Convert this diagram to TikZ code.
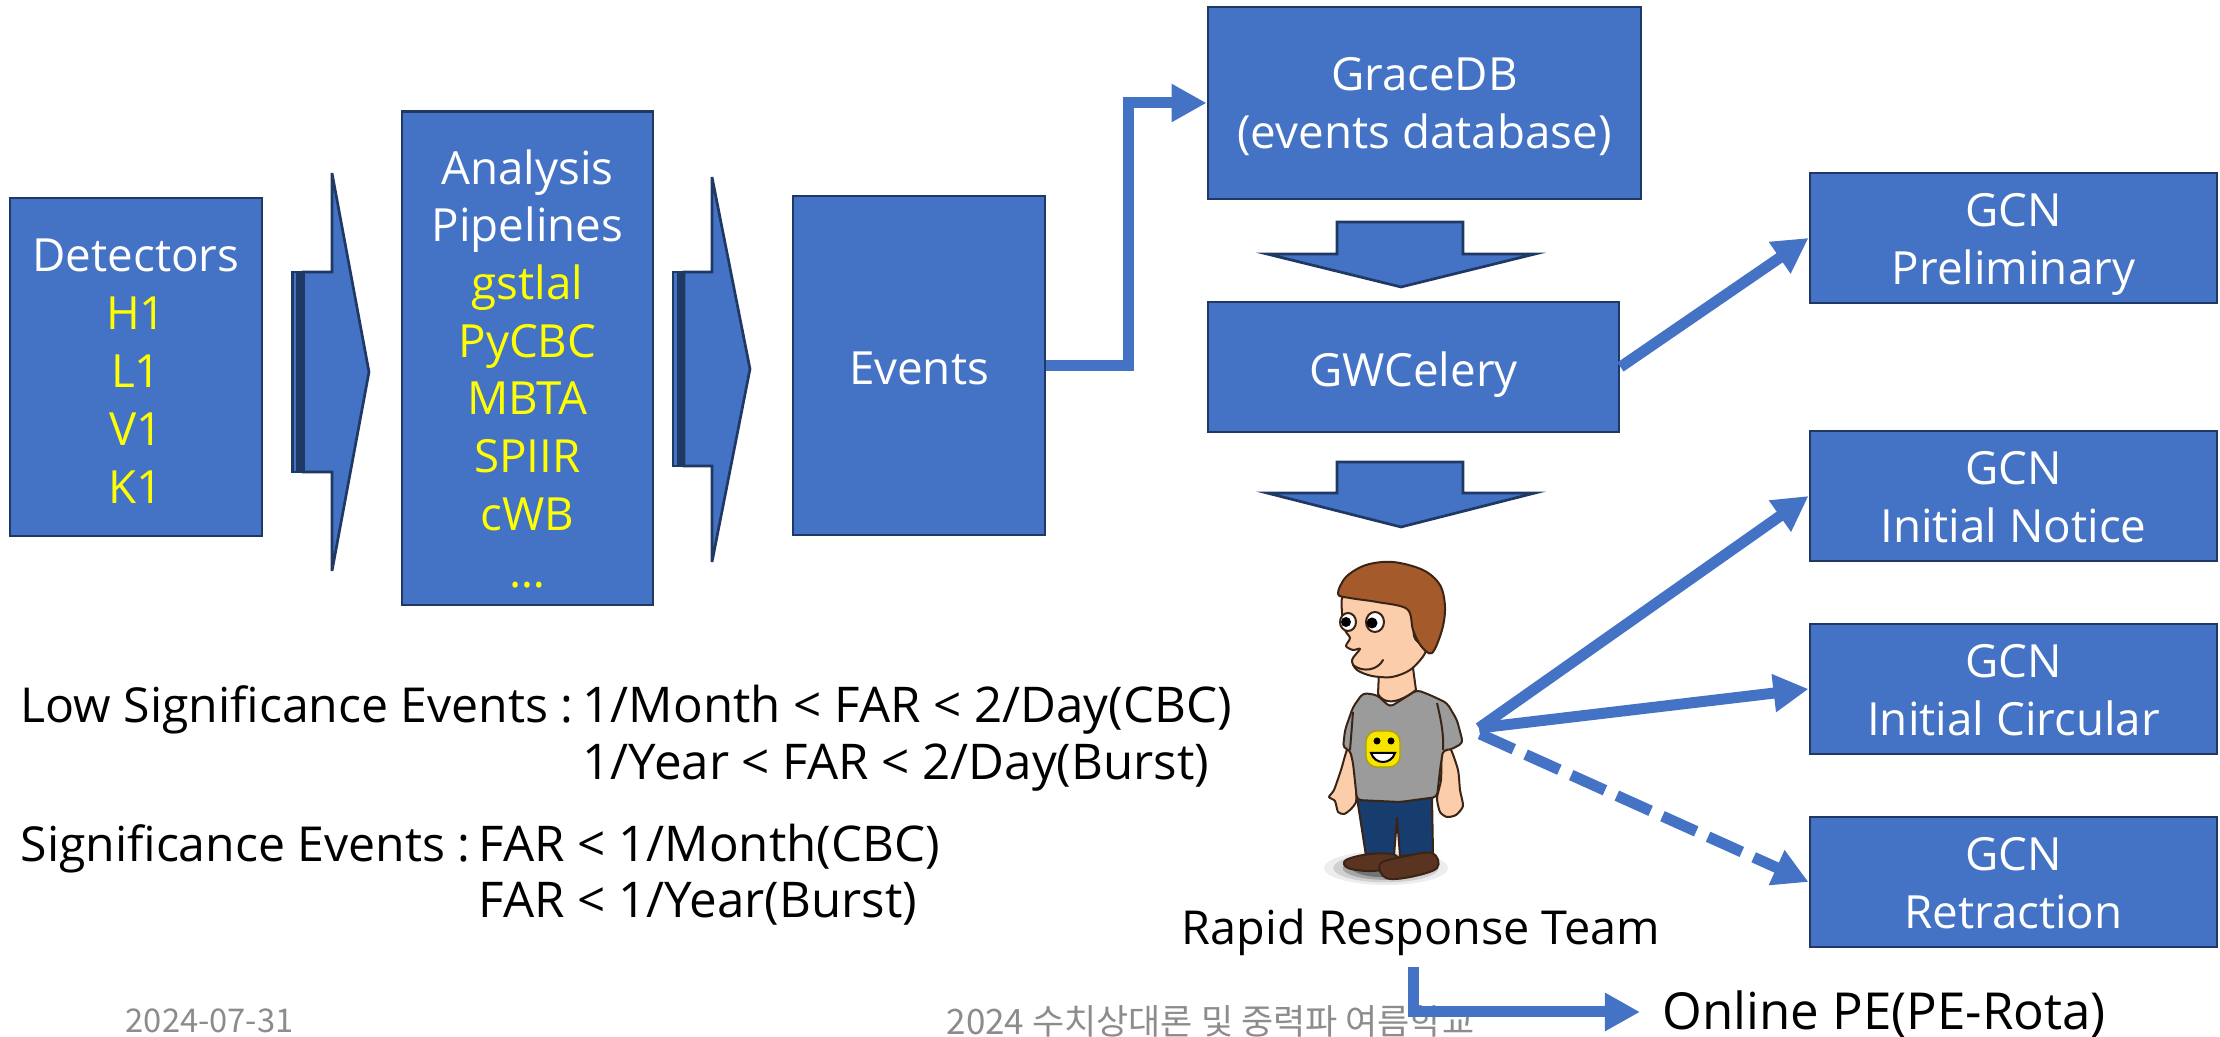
\documentclass[tikz,border=0pt]{standalone}
\usepackage{fontspec}
\setmainfont{Open Sans}
\newfontfamily\krfont{Noto Sans CJK KR}
\usetikzlibrary{arrows.meta}

\definecolor{boxblue}{HTML}{4472C4}
\definecolor{boxedge}{HTML}{1F3864}
\definecolor{hlyellow}{HTML}{FFFF00}
\definecolor{footgray}{HTML}{8C8C8C}
\definecolor{skin}{HTML}{FBCDAA}
\definecolor{hair}{HTML}{A45A2A}
\definecolor{inkbrown}{HTML}{3A2416}
\definecolor{shirt}{HTML}{9B9B9B}
\definecolor{jeans}{HTML}{173C6E}
\definecolor{shoe}{HTML}{5A3421}
\definecolor{smiley}{HTML}{F7E400}

\newcommand{\boxtxt}{\fontsize{13}{16.5}\selectfont}
\newcommand{\pipetxt}{\fontsize{13}{16.4}\selectfont}
\newcommand{\plaintxt}{\fontsize{14}{16}\selectfont}
\newcommand{\lefttxt}{\fontsize{13.7}{16}\selectfont}
\newcommand{\teamtxt}{\fontsize{13.3}{16}\selectfont}
\newcommand{\petxt}{\fontsize{14.5}{16}\selectfont}
\newcommand{\datetxt}{\fontsize{9.3}{11}\selectfont}
\newcommand{\schooltxt}{\fontsize{9.95}{12}\selectfont}
% centred lines of a box, lowered a little inside the box
\newcommand{\boxlines}[2][0.07cm]{%
  \raisebox{-#1}[\height][\depth]{\begin{tabular}{@{}c@{}}#2\end{tabular}}}

\begin{document}
\begin{tikzpicture}[x=0.01cm,y=-0.01cm,
  box/.style={draw=boxedge, fill=boxblue, line width=0.027cm, text=white,
    inner sep=0pt, font=\boxtxt},
  blockarrow/.style={draw=boxedge, fill=boxblue, line width=0.027cm, line join=miter},
  link/.style={draw=boxblue, line width=0.11cm, line join=miter,
    -{Triangle[length=0.35cm,width=0.36cm]}},
  plain/.style={font=\plaintxt, anchor=base west, inner sep=0pt},
  lead/.style={font=\lefttxt, anchor=base west, inner sep=0pt},
  ink/.style={draw=inkbrown, line width=0.02cm, line join=round},
]
\useasboundingbox (0,0) rectangle (2220,1037);

% ---------- pipeline boxes ----------
\node[box, minimum width=2.52cm, minimum height=3.38cm] (det) at (136,367)
  {\boxlines[0.09cm]{Detectors\\\textcolor{hlyellow}{H1}\\\textcolor{hlyellow}{L1}\\
   \textcolor{hlyellow}{V1}\\\textcolor{hlyellow}{K1}}};
\node[box, font=\pipetxt, minimum width=2.51cm, minimum height=4.93cm] (pip) at (527.5,358.5)
  {\boxlines[0.16cm]{Analysis\\Pipelines\\\textcolor{hlyellow}{gstlal}\\\textcolor{hlyellow}{PyCBC}\\
   \textcolor{hlyellow}{MBTA}\\\textcolor{hlyellow}{SPIIR}\\\textcolor{hlyellow}{cWB}\\
   \textcolor{hlyellow}{…}}};
\node[box, minimum width=2.52cm, minimum height=3.39cm] (ev) at (919,365.5) {\boxlines[0.07cm]{Events}};
\node[box, minimum width=4.33cm, minimum height=1.92cm] (grace) at (1424.5,103)
  {\boxlines[0.05cm]{GraceDB\\(events database)}};
\node[box, minimum width=4.11cm, minimum height=1.30cm] (gwc) at (1413.5,367) {\boxlines[0.08cm]{GWCelery}};

\node[box, minimum width=4.07cm, minimum height=1.30cm] (pre) at (2013.5,238)
  {\boxlines[0.055cm]{GCN\\Preliminary}};
\node[box, minimum width=4.07cm, minimum height=1.30cm] (ntc) at (2013.5,496)
  {\boxlines[0.055cm]{GCN\\Initial Notice}};
\node[box, minimum width=4.07cm, minimum height=1.30cm] (cir) at (2013.5,689)
  {\boxlines[0.055cm]{GCN\\Initial Circular}};
\node[box, minimum width=4.07cm, minimum height=1.30cm] (ret) at (2013.5,882)
  {\boxlines[0.055cm]{GCN\\Retraction}};

% ---------- striped block arrows ----------
\draw[blockarrow] (292.5,272) rectangle (297.5,472);
\draw[blockarrow] (299.5,272) rectangle (301.5,472);
\draw[blockarrow] (303.5,272) -- (332,272) -- (332,173) -- (369,372) -- (332,571)
  -- (332,472) -- (303.5,472) -- cycle;

\draw[blockarrow] (673,272) rectangle (678,466);
\draw[blockarrow] (680,272) rectangle (682,466);
\draw[blockarrow] (684,272) -- (712,272) -- (712,177) -- (750,369) -- (712,562)
  -- (712,466) -- (684,466) -- cycle;

% ---------- down block arrows ----------
\draw[blockarrow] (1337,222) -- (1463,222) -- (1463,254) -- (1535,254) -- (1401,287)
  -- (1267,254) -- (1337,254) -- cycle;
\draw[blockarrow] (1337,462) -- (1463,462) -- (1463,493) -- (1535,493) -- (1401,527)
  -- (1267,493) -- (1337,493) -- cycle;

% ---------- thresholds ----------
\node[lead] (low1) at (20,723) {Low Significance Events :};
\node[plain] (low2) at (582,723) {1/Month < FAR < 2/Day(CBC)};
\node[plain] (low3) at (582,780) {1/Year < FAR < 2/Day(Burst)};
\node[lead] (sig1) at (20,862) {Significance Events :};
\node[plain] (sig2) at (478,862) {FAR < 1/Month(CBC)};
\node[plain] (sig3) at (478,918) {FAR < 1/Year(Burst)};

% ---------- footer ----------
\node[font=\krfont\datetxt, text=footgray, anchor=west, inner sep=0pt] (date) at (125,1021) {2024-07-31};
\node[font=\krfont\schooltxt, text=footgray, anchor=west, inner sep=0pt] (school) at (946,1021)
  {2024 수치상대론 및 중력파 여름학교};

% ---------- the duty scientist ----------
% soft ground shadow
\foreach \r/\o in {1/0.07, 0.85/0.12, 0.7/0.2, 0.55/0.3}
  \fill[black, opacity=\o] (1386,868) ellipse [x radius=\r*0.62cm, y radius=\r*0.17cm];
% legs
\draw[ink, fill=jeans] (1357,798) -- (1432,797) -- (1433,853) -- (1400,856) -- (1397,818)
  -- (1394,856) -- (1366,856) -- cycle;
% shoes
\draw[ink, fill=shoe] plot[smooth cycle, tension=0.6] coordinates
  {(1346,860) (1370,854) (1395,855) (1398,866) (1372,871) (1348,868)};
\draw[ink, fill=shoe] plot[smooth cycle, tension=0.6] coordinates
  {(1380,864) (1402,857) (1432,853) (1437,868) (1410,877) (1386,878)};
% arms
\draw[ink, fill=skin] plot[smooth cycle, tension=0.4] coordinates
  {(1348,748) (1341,770) (1334,790) (1329,797) (1335,801) (1338,812) (1344,814) (1350,810)
   (1356,802) (1356,788) (1354,765)};
\draw[ink, fill=skin] plot[smooth cycle, tension=0.4] coordinates
  {(1450,748) (1458,770) (1460,790) (1463,806) (1456,815) (1447,817) (1440,812) (1437,798)
   (1441,780) (1442,752)};
% shirt
\draw[ink, fill=shirt, rounded corners=0.04cm] (1363,693) -- (1377,695) -- (1390,707)
  -- (1417,690) -- (1430,695) -- (1447,703) -- (1457,720) -- (1463,743) -- (1450,750)
  -- (1443,750) -- (1440,770) -- (1437,797) -- (1400,802) -- (1357,800) -- (1353,763)
  -- (1350,750) -- (1343,748) -- (1345,730) -- (1353,707) -- cycle;
\draw[ink] (1437,703) .. controls (1441,720) and (1444,735) .. (1443,750);
\draw[ink] (1353,712) .. controls (1352,725) and (1351,738) .. (1350,750);
% emblem on the shirt
\draw[draw=smiley!70!black, line width=0.012cm, fill=smiley, rounded corners=0.11cm]
  (1366,731) rectangle (1400,767);
\fill[black] (1377,741) circle [radius=0.035cm] (1391,741) circle [radius=0.035cm];
\draw[black, line width=0.02cm, fill=white] (1371,753) .. controls (1375,765) and (1391,765)
  .. (1395,753) -- cycle;
% neck
\draw[ink, fill=skin] (1379,672) -- (1378,694) .. controls (1383,703) and (1395,706) ..
  (1416,690) -- (1413,668) -- cycle;
% face
\draw[ink, fill=skin] plot[smooth cycle, tension=0.5] coordinates
  {(1345,594) (1342,613) (1345,630) (1350,638) (1346,646) (1353,650) (1360,649) (1352,660)
   (1357,670) (1372,676) (1392,677) (1410,670) (1424,655) (1428,640) (1425,615) (1410,598)
   (1380,592)};
% ear
\draw[ink, fill=skin] (1421,632) ellipse [x radius=0.075cm, y radius=0.11cm];
\draw[ink] (1418,626) .. controls (1423,628) and (1423,636) .. (1419,638);
% hair
\draw[ink, fill=hair] plot[smooth cycle, tension=0.55] coordinates
  {(1338,594) (1346,577) (1366,565) (1393,562) (1423,570) (1440,585) (1445,607) (1442,630)
   (1432,653) (1421,646) (1413,630) (1407,609) (1377,602) (1350,598)};
% eyes
\draw[ink, fill=white] (1348,622) ellipse [x radius=0.08cm, y radius=0.09cm];
\draw[ink, fill=white] (1375,622) ellipse [x radius=0.09cm, y radius=0.10cm];
\fill[black] (1346,622) circle [radius=0.05cm] (1372,623) circle [radius=0.055cm];
% smile
\draw[ink, line cap=round] (1353,665) .. controls (1363,673) and (1378,670) .. (1383,660);

\node[font=\teamtxt, anchor=base, inner sep=0pt] (rrtlabel) at (1421,945) {Rapid Response Team};
\coordinate (rrt) at (1479,728);
\coordinate (rrtd) at (1480,734);
\coordinate (pestart) at (1413,967);
\node[font=\petxt, anchor=base west, inner xsep=0.22cm, inner ysep=0pt,
  text height=0.36cm, text depth=0cm] (pe) at (1640,1030) {Online PE(PE-Rota)};

% ---------- connectors ----------
\draw[link] (ev.east) -- ++(82,0) |- (grace.west);
\draw[link] (gwc.east) -- (pre.west);
\draw[link] (rrt) -- (ntc.west);
\draw[link] (rrt) -- (cir.west);
\draw[link, dash pattern=on 0.37cm off 0.13cm] (rrtd) -- (ret.west);
\draw[link] (pestart) |- (pe.west);
\end{tikzpicture}
\end{document}
